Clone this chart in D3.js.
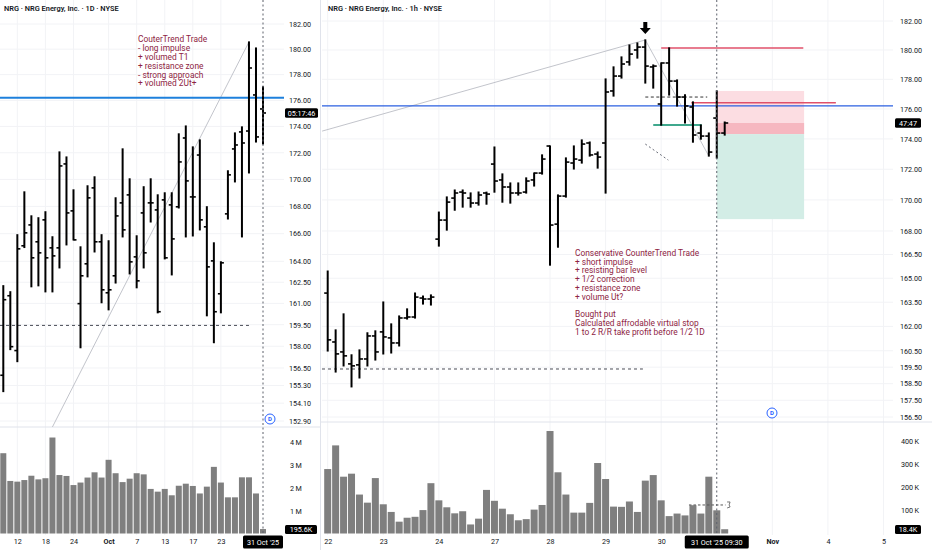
<!DOCTYPE html>
<html>
<head>
<meta charset="utf-8">
<script src="https://cdn.jsdelivr.net/npm/d3@7"></script>
<style>
  body { margin: 0; background: #fff; }
  svg { display: block; font-family: Roboto, "Liberation Sans", sans-serif; }
</style>
</head>
<body>
<svg width="932" height="550"></svg>
<script>
// ---- data: daily bars (left chart) ----
const dailyDates = ["2025-09-10","2025-09-11","2025-09-12","2025-09-15","2025-09-16","2025-09-17","2025-09-18","2025-09-19",
  "2025-09-22","2025-09-23","2025-09-24","2025-09-25","2025-09-26","2025-09-29","2025-09-30","2025-10-01","2025-10-02",
  "2025-10-03","2025-10-06","2025-10-07","2025-10-08","2025-10-09","2025-10-10","2025-10-13","2025-10-14","2025-10-15",
  "2025-10-16","2025-10-17","2025-10-20","2025-10-21","2025-10-22","2025-10-23","2025-10-24","2025-10-27","2025-10-28",
  "2025-10-29","2025-10-30","2025-10-31"];
const dOpen  = [156.0,161.54,157.7,165.12,166.64,165.41,167.01,164.97,164.97,171.16,167.67,160.98,163.82,169.37,165.41,161.75,162.96,168.26,168.85,164.32,167.52,168.26,167.74,168.48,168.11,167.97,173.12,168.7,171.83,166.5,164.03,161.68,167.45,172.29,173.58,173.65,176.42,175.34];
const dHigh  = [162.25,161.82,165.92,169.07,167.3,167.16,167.6,165.77,172.06,171.68,169.22,165.04,169.52,170.19,165.92,165.48,168.63,172.29,170.04,165.84,169.45,170.04,168.85,169.0,169.0,173.43,174.03,172.44,172.97,167.97,165.33,163.96,170.64,173.5,173.96,180.57,180.09,177.04];
const dLow   = [154.89,157.77,156.94,165.0,162.18,162.25,161.82,161.82,163.53,165.19,165.55,157.9,162.89,164.68,161.05,160.55,162.45,165.77,163.1,162.11,163.53,166.86,160.34,164.18,163.03,167.89,165.77,165.84,166.28,160.13,158.25,160.34,167.08,169.82,165.77,170.49,172.82,172.67];
const dClose = [161.26,157.97,164.9,166.06,164.25,164.61,164.25,164.39,171.01,167.52,165.55,162.96,168.63,165.41,161.96,161.96,167.3,166.28,163.96,162.6,164.61,168.26,160.41,164.25,165.62,171.31,169.89,168.7,167.01,163.6,160.41,163.89,170.34,172.59,172.74,178.52,173.2,175.03];
const dVolume = [3.53,2.31,2.28,2.35,2.54,2.38,2.43,4.22,2.57,2.53,2.13,2.24,2.46,2.69,2.46,3.24,2.65,2.26,2.41,2.65,2.6,1.96,1.84,1.96,1.68,2.1,2.19,2.09,1.76,2.06,2.93,2.24,1.59,1.59,2.47,2.47,1.76,0.1956]; // millions

const dailyPriceTicks = [182,180,178,176,174,172,170,168,166,164,162.5,161,159.5,158,156.5,155.3,154.1,152.9];
const dailyVolTicks = [1,2,3,4]; // millions
const dailyDateTicks = ["2025-09-12","2025-09-18","2025-09-24","2025-10-01","2025-10-07","2025-10-13","2025-10-17","2025-10-23"];
const dailyDateLabels = ["12","18","24","Oct","7","13","17","23"];

// ---- data: hourly bars (right chart) ----
const hourlyDays = ["22","23","24","27","28","29","30","31"];
const sessionHours = ["09:30","10:30","11:30","12:30","13:30","14:30","15:30"];
const hOpen  = [164.07,161.04,160.43,159.7,159.64,160.0,161.41,161.66,161.29,160.98,162.52,162.58,163.76,163.7,167.48,168.7,170.12,170.51,170.12,169.8,170.45,172.34,171.3,170.84,170.45,170.51,171.3,171.75,173.53,168.44,170.25,172.41,172.6,173.73,173.0,173.73,177.21,178.22,179.18,180.0,180.2,178.84,176.33,179.11,177.88,176.8,176.13,174.39,174.19,175.39,174.39];
const hHigh  = [165.45,161.78,162.77,160.25,160.55,161.6,161.72,163.51,162.15,162.64,163.08,164.07,163.88,163.95,169.21,170.19,170.64,170.64,170.45,170.51,170.5,173.46,171.69,171.1,171.1,171.43,171.75,172.94,173.53,170.32,172.74,173.53,173.93,173.79,173.13,178.02,178.84,179.52,180.34,180.48,180.69,178.97,179.11,180.14,177.95,176.94,176.47,174.92,174.39,177.21,175.12];
const hLow   = [160.49,159.21,159.58,158.31,158.85,159.58,159.94,160.31,160.37,160.8,162.46,162.52,163.39,163.33,167.04,168.06,169.34,169.54,169.54,169.67,169.73,170.51,169.86,169.8,170.32,170.45,170.91,171.69,165.83,166.97,170.19,172.02,172.41,172.87,172.08,170.45,176.87,178.09,178.97,179.45,177.75,177.41,174.92,176.94,176.2,175.06,173.79,173.99,172.87,172.74,174.26];
const hClose = [161.17,160.31,160.19,159.58,160.0,161.41,160.43,161.35,160.98,162.52,162.58,163.82,163.7,163.82,168.7,169.86,170.45,170.45,169.8,170.32,170.38,171.23,170.84,170.45,170.45,171.23,171.75,172.67,168.38,170.25,172.47,172.67,173.66,172.94,172.8,177.14,178.22,179.04,179.72,180.2,178.9,178.9,179.11,177.88,176.8,176.2,174.26,174.19,173.13,174.39,175.06];
const hVolume = [278,380,245,258,168,133,239,126,93,51,68,72,101,217,143,113,87,96,39,64,188,141,107,83,57,62,103,123,442,264,168,90,90,132,304,235,116,115,138,93,228,252,143,75,86,78,122,86,245,100,18.4]; // thousands

const hourlyPriceTicks = [182,180,178,176,174,172,170,168,166.5,165,163.5,162,160.5,159.5,158.5,157.5,156.5];
const hourlyVolTicks = [100,200,300,400]; // thousands
const hourlyDateTicks = [0,7,14,21,28,35,42,56,63,70]; // bar slots, future slots included
const hourlyDateLabels = ["22","23","24","27","28","29","30","Nov","4","5"];

// ---- drawings (price levels / trend lines) ----
const resistance = 176.2;
const dailyTrend = [[7, 152.5], [35, 180.57]];
const dailyDashLevel = 159.45;
const hourlyTrendUp = [[-0.7, 174.52], [40, 180.69]];
const hourlyTrendDown = [[40, 180.69], [48, 172.87]];
const hourlyDashDiag = [[40, 173.66], [42.9, 172.6]];
const hourlyDashLevel = 159.39;
const barLevel = [[40, 176.8], [47.8, 176.8]];
const tealLevel = [[41, 174.92], [47.1, 174.92]];
const redLevels = [[42, 59.9, 180.14], [45.8, 64, 176.42]];
const position = {from: 49, to: 60, stop: 177.21, entry: 174.32, mark: 175.06, target: 168.76};

const noteDaily = ["CouterTrend Trade","- long impulse","+ volumed T1","+ resistance zone","- strong approach","+ volumed 2Ut+"];
const noteHourly = ["Conservative CounterTrend Trade","+ short impulse","+ resisting bar level","+ 1/2 correction","+ resistance zone","+ volume Ut?","","Bought put","Calculated affrodable virtual stop","1 to 2 R/R take profit before 1/2 1D"];

// ---- setup ----
const svg = d3.select("svg");
const textCol = "#131722", noteCol = "#8e2443";

const dailyRows = dailyDates.map((d, i) => ({i, o: dOpen[i], h: dHigh[i], l: dLow[i], c: dClose[i], v: dVolume[i] * 1e6}));
const hourlyStamps = hourlyDays.flatMap(d => sessionHours.map(h => d + " " + h)).slice(0, hOpen.length);
const hourlyRows = hourlyStamps.map((t, i) => ({i, o: hOpen[i], h: hHigh[i], l: hLow[i], c: hClose[i], v: hVolume[i] * 1e3}));

// left pane
const xL = d3.scaleLinear().domain([0, dailyDates.length - 1]).range([3.3, 263]);
const yL = d3.scaleLog().domain([152.9, 182]).range([421, 24]);
const vL = d3.scaleLinear().domain([0, 4.7e6]).range([533.5, 426.6]);
// right pane
const xR = d3.scaleLinear().domain([0, 70]).range([327.7, 883.5]);
const yR = d3.scaleLog().domain([156.5, 182]).range([417, 21]);
const vR = d3.scaleLinear().domain([0, 480000]).range([533.5, 422.2]);

const defs = svg.append("defs");
function clip(id, x, y, w, h) {
  defs.append("clipPath").attr("id", id).append("rect").attr("x", x).attr("y", y).attr("width", w).attr("height", h);
  return "url(#" + id + ")";
}
const clipLP = clip("lp", 0, 0, 284, 427), clipLV = clip("lv", 0, 427, 284, 108);
const clipRP = clip("rp", 322, 0, 571, 422), clipRV = clip("rv", 322, 422, 571, 113);

// faint grid
const grid = svg.append("g").attr("stroke", "#f2f3f6").attr("stroke-width", 1);
dailyPriceTicks.forEach(p => grid.append("line").attr("x1", 0).attr("x2", 284).attr("y1", yL(p)).attr("y2", yL(p)));
dailyDateTicks.forEach(d => { const x = xL(dailyDates.indexOf(d)); grid.append("line").attr("x1", x).attr("x2", x).attr("y1", 0).attr("y2", 535); });
hourlyPriceTicks.forEach(p => grid.append("line").attr("x1", 322).attr("x2", 893).attr("y1", yR(p)).attr("y2", yR(p)));
hourlyDateTicks.forEach(i => grid.append("line").attr("x1", xR(i)).attr("x2", xR(i)).attr("y1", 0).attr("y2", 535));

// separators
const sep = svg.append("g").attr("stroke", "#e0e3eb").attr("stroke-width", 1);
sep.append("line").attr("x1", 0).attr("x2", 320).attr("y1", 427).attr("y2", 427);
sep.append("line").attr("x1", 321).attr("x2", 932).attr("y1", 422).attr("y2", 422);
sep.append("line").attr("x1", 320.5).attr("x2", 320.5).attr("y1", 0).attr("y2", 550);

// position tool (under bars)
const pos = svg.append("g").attr("clip-path", clipRP);
pos.append("rect").attr("x", xR(position.from)).attr("width", xR(position.to) - xR(position.from))
  .attr("y", yR(position.stop)).attr("height", yR(position.entry) - yR(position.stop)).attr("fill", "#fcdde2");
pos.append("rect").attr("x", xR(position.from)).attr("width", xR(position.to) - xR(position.from))
  .attr("y", yR(position.mark)).attr("height", yR(position.entry) - yR(position.mark)).attr("fill", "#f6b7c0");
pos.append("rect").attr("x", xR(position.from)).attr("width", xR(position.to) - xR(position.from))
  .attr("y", yR(position.entry)).attr("height", yR(position.target) - yR(position.entry)).attr("fill", "#d3ede6");

// trend lines and levels
function seg(g, pts, x, y) {
  return g.append("line").attr("x1", x(pts[0][0])).attr("y1", y(pts[0][1])).attr("x2", x(pts[1][0])).attr("y2", y(pts[1][1]));
}
const dl = svg.append("g").attr("clip-path", clipLP);
seg(dl, dailyTrend, xL, yL).attr("stroke", "#b2b5be").attr("stroke-width", 0.8);
dl.append("line").attr("x1", 0).attr("x2", xL(35)).attr("y1", yL(dailyDashLevel)).attr("y2", yL(dailyDashLevel))
  .attr("stroke", "#4a4d57").attr("stroke-dasharray", "3,3");

const rl = svg.append("g").attr("clip-path", clipRP);
seg(rl, hourlyTrendUp, xR, yR).attr("stroke", "#b2b5be").attr("stroke-width", 0.8);
seg(rl, hourlyTrendDown, xR, yR).attr("stroke", "#b2b5be").attr("stroke-width", 0.8);
seg(rl, hourlyDashDiag, xR, yR).attr("stroke", "#6a6d78").attr("stroke-dasharray", "2,2.5");
rl.append("line").attr("x1", 322).attr("x2", xR(39.7)).attr("y1", yR(hourlyDashLevel)).attr("y2", yR(hourlyDashLevel))
  .attr("stroke", "#4a4d57").attr("stroke-dasharray", "3,3");
seg(rl, barLevel, xR, yR).attr("stroke", "#333").attr("stroke-dasharray", "3,2.5");
seg(rl, tealLevel, xR, yR).attr("stroke", "#3fa88d").attr("stroke-width", 2);
redLevels.forEach(r => rl.append("line").attr("x1", xR(r[0])).attr("x2", xR(r[1])).attr("y1", yR(r[2])).attr("y2", yR(r[2]))
  .attr("stroke", "#e0506a").attr("stroke-width", 1.5));

// resistance lines
dl.append("line").attr("x1", 0).attr("x2", 284).attr("y1", yL(resistance)).attr("y2", yL(resistance))
  .attr("stroke", "#1e80dc").attr("stroke-width", 2);
rl.append("line").attr("x1", 322).attr("x2", 893).attr("y1", yR(resistance)).attr("y2", yR(resistance))
  .attr("stroke", "#2a5fe0").attr("stroke-width", 1.3);

// OHLC bars
function ohlc(g, rows, x, y, tk) {
  g.selectAll(".hl").data(rows).join("line").attr("class", "hl")
    .attr("x1", d => x(d.i)).attr("x2", d => x(d.i))
    .attr("y1", d => y(d.h) - 0.6).attr("y2", d => y(d.l) + 0.6)
    .attr("stroke", "#000").attr("stroke-width", 2);
  g.selectAll(".op").data(rows).join("line").attr("class", "op")
    .attr("x1", d => x(d.i) - tk).attr("x2", d => x(d.i))
    .attr("y1", d => y(d.o)).attr("y2", d => y(d.o))
    .attr("stroke", "#000").attr("stroke-width", 1.6);
  g.selectAll(".cl").data(rows).join("line").attr("class", "cl")
    .attr("x1", d => x(d.i)).attr("x2", d => x(d.i) + tk)
    .attr("y1", d => y(d.c)).attr("y2", d => y(d.c))
    .attr("stroke", "#000").attr("stroke-width", 1.6);
}
ohlc(svg.append("g").attr("clip-path", clipLP), dailyRows, xL, yL, 3);
ohlc(svg.append("g").attr("clip-path", clipRP), hourlyRows, xR, yR, 3.5);

// volume bars
svg.append("g").attr("clip-path", clipLV).selectAll("rect").data(dailyRows).join("rect")
  .attr("x", d => xL(d.i) - 3).attr("width", 6)
  .attr("y", d => vL(d.v)).attr("height", d => vL(0) - vL(d.v)).attr("fill", "#7f7f7f");
svg.append("g").attr("clip-path", clipRV).selectAll("rect").data(hourlyRows).join("rect")
  .attr("x", d => xR(d.i) - 3.5).attr("width", 7)
  .attr("y", d => vR(d.v)).attr("height", d => vR(0) - vR(d.v)).attr("fill", "#7f7f7f");

// volume marker line
const vm = svg.append("g");
vm.append("line").attr("x1", xR(45.5)).attr("x2", xR(50.1)).attr("y1", vR(123000)).attr("y2", vR(123000))
  .attr("stroke", "#555").attr("stroke-dasharray", "2.5,2");
vm.append("path").attr("d", `M${xR(50.3)},${vR(123000) - 3} l3,0 l-1,3 l1,2 l-3,1`).attr("fill", "none")
  .attr("stroke", "#555").attr("stroke-width", 0.8);

// arrow above the peak
const ax = xR(40);
svg.append("path").attr("d", `M${ax - 2},22 h4 v6 h3.5 l-5.5,6 l-5.5,-6 h3.5 z`).attr("fill", "#000");

// crosshair
[[xL(37), 0, 535], [xR(49), 0, 535]].forEach(c => svg.append("line").attr("x1", c[0]).attr("x2", c[0]).attr("y1", c[1]).attr("y2", c[2])
  .attr("stroke", "#5d606b").attr("stroke-dasharray", "2,2.5"));

// notes
function note(lines, x, y0, lh) {
  const t = svg.append("text").attr("x", x).attr("y", y0).attr("fill", noteCol).attr("font-size", 8.4);
  lines.forEach((s, k) => t.append("tspan").attr("x", x).attr("y", y0 + k * lh).text(s));
}
note(noteDaily, 138, 42.3, 8.8);
note(noteHourly, 575, 256, 8.73);

// titles
svg.append("text").attr("x", 4).attr("y", 10.5).attr("font-size", 7.4).attr("font-weight", 600).attr("fill", textCol)
  .text("NRG · NRG Energy, Inc. · 1D · NYSE");
svg.append("text").attr("x", 328).attr("y", 10.5).attr("font-size", 7.4).attr("font-weight", 600).attr("fill", textCol)
  .text("NRG · NRG Energy, Inc. · 1h · NYSE");

// axes
function styleAxis(g) {
  g.select(".domain").remove();
  g.attr("font-family", null).attr("font-size", null);
  g.selectAll("text").attr("font-size", 7.2).attr("fill", textCol);
}
svg.append("g").attr("transform", "translate(284,0)")
  .call(d3.axisRight(yL).tickValues(dailyPriceTicks).tickFormat(d3.format(".2f")).tickSize(0).tickPadding(5)).call(styleAxis);
svg.append("g").attr("transform", "translate(893,0)")
  .call(d3.axisRight(yR).tickValues(hourlyPriceTicks).tickFormat(d3.format(".2f")).tickSize(0).tickPadding(7)).call(styleAxis);
svg.append("g").attr("transform", "translate(284,0)")
  .call(d3.axisRight(vL).tickValues(dailyVolTicks.map(v => v * 1e6)).tickFormat(v => (v / 1e6) + "\u2009M").tickSize(0).tickPadding(6)).call(styleAxis);
svg.append("g").attr("transform", "translate(893,0)")
  .call(d3.axisRight(vR).tickValues(hourlyVolTicks.map(v => v * 1e3)).tickFormat(v => (v / 1e3) + "\u2009K").tickSize(0).tickPadding(8)).call(styleAxis);

const xAxL = svg.append("g").attr("transform", "translate(0,536)")
  .call(d3.axisBottom(xL).tickValues(dailyDateTicks.map(d => dailyDates.indexOf(d))).tickFormat((d, k) => dailyDateLabels[k]).tickSize(0).tickPadding(3))
  .call(styleAxis);
xAxL.selectAll("text").filter(t => dailyDates[t].endsWith("-01")).attr("font-weight", 700);
const xAxR = svg.append("g").attr("transform", "translate(0,536)")
  .call(d3.axisBottom(xR).tickValues(hourlyDateTicks).tickFormat((d, k) => hourlyDateLabels[k]).tickSize(0).tickPadding(3))
  .call(styleAxis);
xAxR.selectAll("text").filter((t, k) => hourlyDateLabels[k] === "Nov").attr("font-weight", 700);

// black label boxes
function box(cx, cy, w, h, s) {
  svg.append("rect").attr("x", cx - w / 2).attr("y", cy - h / 2).attr("width", w).attr("height", h).attr("rx", 1.5).attr("fill", "#000");
  svg.append("text").attr("x", cx).attr("y", cy + 2.5).attr("text-anchor", "middle").attr("font-size", 7.2).attr("fill", "#fff").text(s);
}
box(xL(37), 542, 40, 13, "31 Oct '25");
box(xR(49), 542, 64, 13, "31 Oct '25   09:30");
box(301.5, 113, 33, 9.5, "05:17:46");
box(908, 123, 26, 9.5, "47:47");
box(301, 529.5, 32, 9, "195.6K");
box(908, 529.5, 26, 9, "18.4K");

// dividend markers
[[270, 419], [772, 413]].forEach(p => {
  svg.append("circle").attr("cx", p[0]).attr("cy", p[1]).attr("r", 5).attr("fill", "#fff").attr("stroke", "#2962ff").attr("stroke-width", 1);
  svg.append("text").attr("x", p[0]).attr("y", p[1] + 2.2).attr("text-anchor", "middle").attr("font-size", 6).attr("font-weight", 700)
    .attr("fill", "#2962ff").text("D");
});
</script>
</body>
</html>
